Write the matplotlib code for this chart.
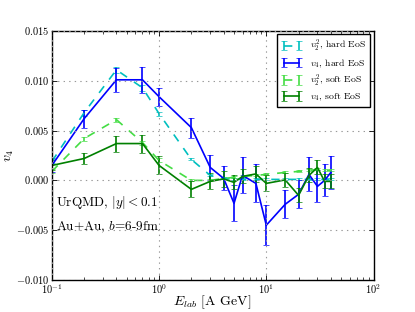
import numpy as np
import matplotlib
matplotlib.use('Agg')
import matplotlib.pyplot as plt

plt.style.use('classic')
plt.rcParams['font.family'] = 'serif'
plt.rcParams['font.serif'] = ['cmr10']
plt.rcParams['mathtext.fontset'] = 'cm'
plt.rcParams['axes.formatter.use_mathtext'] = True

# beam energies [A GeV]
elab = [0.1, 0.2, 0.4, 0.7, 1, 2, 3, 4, 5, 6, 8, 10, 15, 20, 25, 30, 35, 40]

# v2^2, hard EoS
v22_hard = [0.0019, 0.0068, 0.0111, 0.0093, 0.0067, 0.0021, 0.0005, 0.0002, 0.0001,
            0.0001, 0.0001, 0.0001, 0.0001, 0.0001, 0.0001, 0.0001, 0.0001, 0.0001]
v22_hard_err = [0.0002, 0.0003, 0.0003, 0.0003, 0.0002, 0.0001, 0.0001, 0.0001, 0.0001,
                0.0001, 0.0001, 0.0001, 0.0001, 0.0001, 0.0001, 0.0001, 0.0001, 0.0001]

# v4, hard EoS
v4_hard = [0.0015, 0.0062, 0.0101, 0.0101, 0.0084, 0.0053, 0.0013, 0.0002, -0.0023,
           0.0005, -0.0003, -0.0045, -0.0024, -0.0014, 0.0006, -0.0006, 0.0, 0.0008]
v4_hard_err = [0.0007, 0.0009, 0.0012, 0.0013, 0.0009, 0.001, 0.0013, 0.0012, 0.0018,
               0.0018, 0.0019, 0.002, 0.0014, 0.0014, 0.0017, 0.0016, 0.0016, 0.0017]

# v2^2, soft EoS
v22_soft = [0.0009, 0.0042, 0.0061, 0.0038, 0.0020, 0.0, 0.0, 0.0002, 0.0003,
            0.0004, 0.0005, 0.0006, 0.0008, 0.0009, 0.001, 0.0011, 0.001, 0.001]
v22_soft_err = [0.0002, 0.0002, 0.0002, 0.0002, 0.0002, 0.0001, 0.0001, 0.0001, 0.0001,
                0.0001, 0.0001, 0.0001, 0.0001, 0.0001, 0.0001, 0.0001, 0.0001, 0.0001]

# v4, soft EoS
v4_soft = [0.0015, 0.0022, 0.0037, 0.0037, 0.0015, -0.0009, -0.0001, 0.00015, -0.0002,
           0.0004, 0.00065, -0.0003, 0.00005, -0.0015, 0.0005, 0.0013, -0.0001, -0.0001]
v4_soft_err = [0.0005, 0.0006, 0.0008, 0.0009, 0.0009, 0.0008, 0.0008, 0.0008, 0.0007,
               0.0007, 0.0008, 0.0008, 0.0007, 0.0007, 0.0007, 0.0007, 0.0007, 0.0007]

yticks = [-0.010, -0.005, 0.0, 0.005, 0.010, 0.015]
ytick_labels = [r'$-0.010$', r'$-0.005$', r'$0.000$', r'$0.005$', r'$0.010$', r'$0.015$']

fig = plt.figure(figsize=(4.15, 3.12), dpi=100)
ax = fig.add_axes([0.125, 0.1026, 0.775, 0.798])

ax.errorbar(elab, v22_hard, yerr=v22_hard_err, color='c', ls='--', lw=1.2,
            capsize=2.5, label=r'$v_2^2$, hard EoS')
ax.errorbar(elab, v4_hard, yerr=v4_hard_err, color='b', ls='-', lw=1.2,
            capsize=2.5, label=r'$v_4$, hard EoS')
ax.errorbar(elab, v22_soft, yerr=v22_soft_err, color='#44dd44', ls='--', lw=1.2,
            capsize=2.5, label=r'$v_2^2$, soft EoS')
ax.errorbar(elab, v4_soft, yerr=v4_soft_err, color='g', ls='-', lw=1.2,
            capsize=2.5, label=r'$v_4$, soft EoS')

ax.set_xscale('log')
ax.set_xlim(0.1, 100)
ax.set_ylim(-0.010, 0.015)
ax.set_yticks(yticks)
ax.set_yticklabels(ytick_labels)
ax.grid(True, ls=':', color='0.6', lw=0.8)
ax.tick_params(labelsize=7.5, length=3.5, width=0.6, pad=2)
ax.tick_params(which='minor', length=2, width=0.5)
for s in ax.spines.values():
    s.set_linewidth(1.0)

ax.set_xlabel(r'$E_{lab}$ [A GeV]', fontsize=10, labelpad=-2)
ax.set_ylabel(r'$v_4$', fontsize=10, labelpad=0)

ax.text(0.11, -0.0022, r'UrQMD, $|y|<0.1$', fontsize=9.5, va='center')
ax.text(0.11, -0.0047, r'Au+Au, $b$=6-9fm', fontsize=9.5, va='center')

leg = ax.legend(loc='upper right', fontsize=7, numpoints=2, handlelength=2.2,
                borderpad=0.4, labelspacing=0.3, handletextpad=0.8,
                borderaxespad=0.35, fancybox=False)
leg.get_frame().set_linewidth(1.0)

fig.savefig('out.png', dpi=100)
